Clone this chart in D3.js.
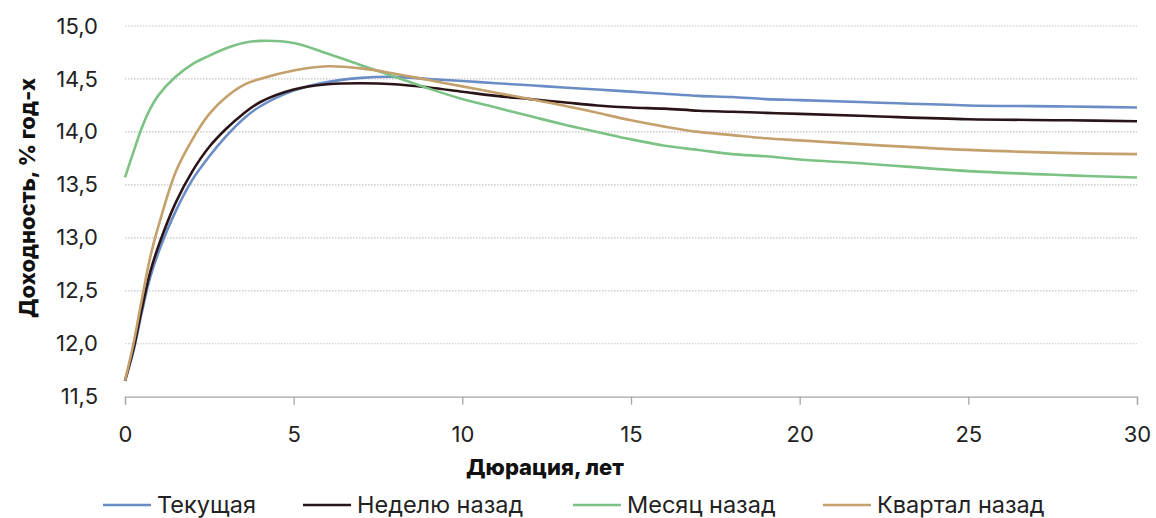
<!DOCTYPE html>
<html><head><meta charset="utf-8">
<script src="https://cdn.jsdelivr.net/npm/d3@7/dist/d3.min.js"></script>
<style>body{margin:0;background:#fff}svg{display:block}</style>
</head><body><svg id="c" width="1156" height="518"></svg>
<script>
const durations = [0,0.25,0.5,0.75,1,1.5,2,2.5,3,3.5,4,5,6,7,8,9,10,11,12,13,14,15,16,17,18,19,20,22,25,28,30];
const current   = [11.65,11.93,12.30,12.63,12.87,13.25,13.55,13.77,13.96,14.12,14.24,14.39,14.47,14.51,14.52,14.50,14.48,14.46,14.44,14.42,14.40,14.38,14.36,14.34,14.33,14.31,14.30,14.28,14.25,14.24,14.23];
const weekAgo   = [11.65,11.95,12.33,12.68,12.93,13.33,13.63,13.86,14.03,14.17,14.28,14.40,14.45,14.46,14.45,14.42,14.38,14.34,14.31,14.28,14.25,14.23,14.22,14.20,14.19,14.18,14.17,14.15,14.12,14.11,14.10];
const monthAgo  = [13.57,13.81,14.04,14.22,14.35,14.52,14.64,14.72,14.79,14.84,14.86,14.84,14.74,14.63,14.52,14.41,14.31,14.23,14.15,14.07,14.00,13.93,13.87,13.83,13.79,13.77,13.74,13.70,13.63,13.59,13.57];
const quarterAgo= [11.65,12.00,12.42,12.82,13.12,13.62,13.93,14.17,14.33,14.44,14.50,14.58,14.62,14.60,14.55,14.49,14.43,14.37,14.31,14.25,14.18,14.11,14.05,14.00,13.97,13.94,13.92,13.88,13.83,13.80,13.79];
const seriesNames = ["Текущая","Неделю назад","Месяц назад","Квартал назад"];
const seriesColors = ["#6a8dc6","#2b1417","#7cc285","#c4a06c"];
const yTicks = [11.5,12.0,12.5,13.0,13.5,14.0,14.5,15.0];
const xTicks = [0,5,10,15,20,25,30];
const xTitle = "Дюрация, лет";
const yTitle = "Доходность, % год-х";

const series = [current, weekAgo, monthAgo, quarterAgo];
const svg = d3.select("#c");
const x = d3.scaleLinear().domain([0,30]).range([125,1137]);
const y = d3.scaleLinear().domain([11.5,15]).range([396.7,26]);
const font = "Inter, 'Noto Sans', sans-serif";

// gridlines
svg.append("g").selectAll("line").data(yTicks.slice(1)).join("line")
  .attr("x1",x(0)).attr("x2",x(30)).attr("y1",d=>y(d)).attr("y2",d=>y(d))
  .attr("stroke","#c4c4c4").attr("stroke-width",1.2).attr("stroke-dasharray","1.5,1.5");

// x axis
const xAxis = svg.append("g").attr("transform",`translate(0,${y(11.5)})`)
  .call(d3.axisBottom(x).tickValues(xTicks).tickSize(8).tickPadding(22).tickFormat(d3.format("d")));
xAxis.select(".domain").attr("stroke","#a6a6a6").attr("stroke-width",1.3);
xAxis.selectAll(".tick line").attr("stroke","#a6a6a6").attr("stroke-width",1.3);
xAxis.selectAll("text").attr("font-family",font).attr("font-size",22).attr("fill","#222");

// y axis
const yAxis = svg.append("g").attr("transform",`translate(${x(0)},0)`)
  .call(d3.axisLeft(y).tickValues(yTicks).tickSize(0).tickPadding(27).tickFormat(d=>d3.format(".1f")(d).replace(".",",")));
yAxis.select(".domain").remove();
yAxis.selectAll("text").attr("font-family",font).attr("font-size",22).attr("fill","#222");

// lines
const line = d3.line().x((d,i)=>x(durations[i])).y(d=>y(d)).curve(d3.curveCatmullRom.alpha(0.5));
svg.append("g").selectAll("path").data(series).join("path")
  .attr("d",line).attr("fill","none")
  .attr("stroke",(d,i)=>seriesColors[i]).attr("stroke-width",2.6);

// titles
svg.append("text").attr("x",545).attr("y",475).attr("text-anchor","middle")
  .attr("font-family",font).attr("font-weight",800).attr("font-size",22).attr("fill","#111").text(xTitle);
svg.append("text").attr("transform","translate(35,198) rotate(-90)").attr("text-anchor","middle")
  .attr("font-family",font).attr("font-weight",800).attr("font-size",22).attr("fill","#111").text(yTitle);

// legend
const legX = [103,303,573,823];
const lg = svg.append("g").selectAll("g").data(seriesNames).join("g")
  .attr("transform",(d,i)=>`translate(${legX[i]},505)`);
lg.append("line").attr("x1",0).attr("x2",48).attr("stroke",(d,i)=>seriesColors[i]).attr("stroke-width",2.6);
lg.append("text").attr("x",54).attr("y",8).attr("font-family",font).attr("font-size",23.5).attr("fill","#222").text(d=>d);
</script></body></html>
